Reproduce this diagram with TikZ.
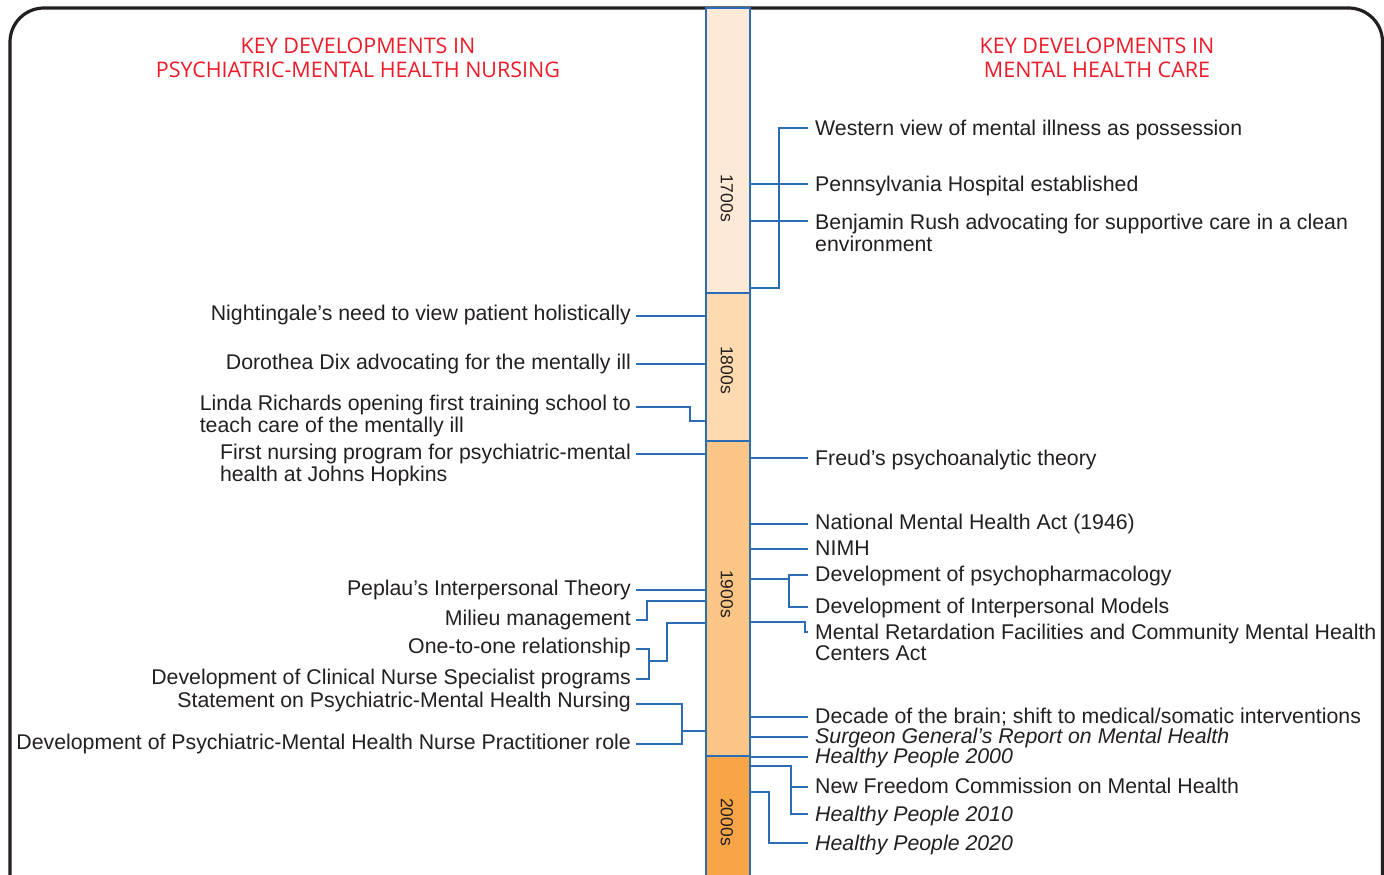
\documentclass[tikz,border=0pt]{standalone}
\usepackage{fontspec}
\setmainfont{Liberation Sans}
\newfontfamily\hdrfont{Open Sans}
\definecolor{txt}{HTML}{231F20}
\definecolor{hdr}{HTML}{EC1C2A}
\definecolor{lnk}{HTML}{2B6CB5}
\definecolor{c17}{HTML}{FDEAD6}
\definecolor{c18}{HTML}{FDDAB0}
\definecolor{c19}{HTML}{FBC586}
\definecolor{c20}{HTML}{F8A548}
\definecolor{frm}{HTML}{231F20}
\begin{document}
\begin{tikzpicture}[x=1pt,y=-1pt,
  evt/.style={font=\fontsize{21.3}{21}\selectfont, text=txt, inner sep=0pt},
  hdrs/.style={font=\hdrfont\fontsize{21.5}{24}\selectfont, text=hdr, align=center, inner sep=0pt},
  seg/.style={draw=lnk, line width=1.6pt, minimum width=44pt, inner sep=0pt, anchor=north west},
  dec/.style={font=\fontsize{17.5}{18}\selectfont, text=txt, rotate=-90, inner sep=0pt},
  conn/.style={draw=lnk, line width=1.4pt}]
\useasboundingbox (0,0) rectangle (1384,875);
\begin{scope}
\clip (0,0) rectangle (1384,875);
% frame
\draw[frm, line width=3.2pt, rounded corners=34pt] (10,960) -- (10,8) -- (1382.5,8) -- (1382.5,960);
% bar
\node[seg, fill=c17, minimum height=285pt] (s17) at (705,7) {};
\node[seg, fill=c18, minimum height=148pt] (s18) at (705,292) {};
\node[seg, fill=c19, minimum height=315pt] (s19) at (705,440) {};
\node[seg, fill=c20, minimum height=140pt] (s20) at (705,755) {};
\node[dec] (d17) at (727,198) {1700s};
\node[dec] (d18) at (727,370) {1800s};
\node[dec] (d19) at (727,594) {1900s};
\node[dec] (d20) at (727,822) {2000s};
\end{scope}
% headers
\node[hdrs] (hl) at (358,58) {KEY DEVELOPMENTS IN\\PSYCHIATRIC-MENTAL HEALTH NURSING};
\node[hdrs] (hr) at (1097,58) {KEY DEVELOPMENTS IN\\MENTAL HEALTH CARE};
% right texts
\node[evt, anchor=base west] (t1) at (815,135.5) {Western view of mental illness as possession};
\node[evt, anchor=base west] (t2) at (815,191.5) {Pennsylvania Hospital established};
\node[evt, anchor=base west] (t3) at (815,229.5) {\begin{tabular}[t]{@{}l@{}}Benjamin Rush advocating for supportive care in a clean\\environment\end{tabular}};
\node[evt, anchor=base west] (t4) at (815,465.5) {Freud’s psychoanalytic theory};
\node[evt, anchor=base west] (t5) at (815,529.5) {National Mental Health Act (1946)};
\node[evt, anchor=base west] (t6) at (815,555.5) {NIMH};
\node[evt, anchor=base west] (t7) at (815,581.5) {Development of psychopharmacology};
\node[evt, anchor=base west] (t8) at (815,613.5) {Development of Interpersonal Models};
\node[evt, anchor=base west] (t9) at (815,639.5) {\begin{tabular}[t]{@{}l@{}}Mental Retardation Facilities and Community Mental Health\\Centers Act\end{tabular}};
\node[evt, anchor=base west] (t10) at (815,723.5) {Decade of the brain; shift to medical/somatic interventions};
\node[evt, anchor=base west] (t11) at (815,743.5) {\itshape Surgeon General’s Report on Mental Health};
\node[evt, anchor=base west] (t12) at (815,763.5) {\itshape Healthy People 2000};
\node[evt, anchor=base west] (t13) at (815,793.5) {New Freedom Commission on Mental Health};
\node[evt, anchor=base west] (t14) at (815,821.5) {\itshape Healthy People 2010};
\node[evt, anchor=base west] (t15) at (815,850.5) {\itshape Healthy People 2020};
% left texts
\node[evt, anchor=base east] (u1) at (631,320.5) {Nightingale’s need to view patient holistically};
\node[evt, anchor=base east] (u2) at (631,369.5) {Dorothea Dix advocating for the mentally ill};
\node[evt, anchor=base east] (u3) at (631,410.5) {\begin{tabular}[t]{@{}l@{}}Linda Richards opening first training school to\\teach care of the mentally ill\end{tabular}};
\node[evt, anchor=base east] (u4) at (631,459.5) {\begin{tabular}[t]{@{}l@{}}First nursing program for psychiatric-mental\\health at Johns Hopkins\end{tabular}};
\node[evt, anchor=base east] (u5) at (631,595.5) {Peplau’s Interpersonal Theory};
\node[evt, anchor=base east] (u6) at (631,625.5) {Milieu management};
\node[evt, anchor=base east] (u7) at (631,653.5) {One-to-one relationship};
\node[evt, anchor=base east] (u8) at (631,684.5) {Development of Clinical Nurse Specialist programs};
\node[evt, anchor=base east] (u9) at (631,707.5) {Statement on Psychiatric-Mental Health Nursing};
\node[evt, anchor=base east] (u10) at (631,749.5) {Development of Psychiatric-Mental Health Nurse Practitioner role};
% connector end points
\coordinate (r1) at (808,128);
\coordinate (r2) at (808,184);
\coordinate (r3) at (808,221);
\coordinate (r4) at (808,458);
\coordinate (r5) at (808,524);
\coordinate (r6) at (808,549);
\coordinate (r7) at (808,575);
\coordinate (r8) at (808,607);
\coordinate (r9) at (808,632);
\coordinate (r10) at (808,717);
\coordinate (r11) at (808,737);
\coordinate (r12) at (808,757);
\coordinate (r13) at (808,787);
\coordinate (r14) at (808,814);
\coordinate (r15) at (808,843);
\coordinate (l1) at (636,316);
\coordinate (l2) at (636,364);
\coordinate (l3) at (636,407);
\coordinate (l4) at (636,454);
\coordinate (l5) at (636,590);
\coordinate (l6) at (636,620);
\coordinate (l7) at (636,649);
\coordinate (l8) at (636,679);
\coordinate (l9) at (636,704);
\coordinate (l10) at (636,744);
% right connectors
\draw[conn] (r1) -- (779,128) -- (779,288) -- (s17.east |- 0,288);
\draw[conn] (s17.east |- r2) -- (r2);
\draw[conn] (s17.east |- r3) -- (r3);
\draw[conn] (s19.east |- r4) -- (r4);
\draw[conn] (s19.east |- r5) -- (r5);
\draw[conn] (s19.east |- r6) -- (r6);
\draw[conn] (s19.east |- 0,579) -- (789,579);
\draw[conn] (r7) -- (789,575) -- (789,607) -- (r8);
\draw[conn] (s19.east |- 0,622) -- (805,622) -- (805,632) -- (r9);
\draw[conn] (s19.east |- r10) -- (r10);
\draw[conn] (s19.east |- r11) -- (r11);
\draw[conn] (s20.east |- r12) -- (r12);
\draw[conn] (s20.east |- 0,766) -- (791,766) -- (791,814) -- (r14);
\draw[conn] (791,787) -- (r13);
\draw[conn] (s20.east |- 0,792) -- (769,792) -- (769,843) -- (r15);
% left connectors
\draw[conn] (l1) -- (s18.west |- l1);
\draw[conn] (l2) -- (s18.west |- l2);
\draw[conn] (l3) -- (690,407) -- (690,421) -- (s18.west |- 0,421);
\draw[conn] (l4) -- (s19.west |- l4);
\draw[conn] (l5) -- (s19.west |- l5);
\draw[conn] (l6) -- (647,620) -- (647,601) -- (s19.west |- 0,601);
\draw[conn] (l7) -- (649,649) -- (649,679) -- (l8);
\draw[conn] (649,661) -- (667,661) -- (667,623) -- (s19.west |- 0,623);
\draw[conn] (l9) -- (682,704) -- (682,744) -- (l10);
\draw[conn] (682,731) -- (s19.west |- 0,731);
\end{tikzpicture}
\end{document}
